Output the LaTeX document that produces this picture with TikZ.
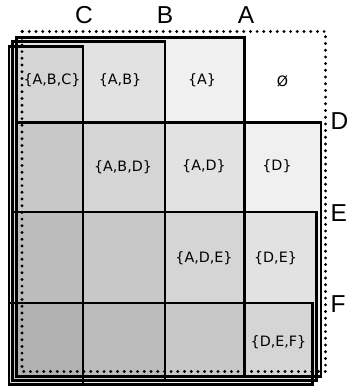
\documentclass[tikz,border=0pt]{standalone}
\usepackage{fontspec}
\setmainfont{Liberation Sans}
\newfontfamily\cellfont{DejaVu Sans}
\begin{document}
\begin{tikzpicture}[x=1pt,y=-1pt,
  setbox/.style={draw=black, line width=2.1pt, fill=black, fill opacity=0.06, draw opacity=1},
  cell/.style={font=\cellfont\fontsize{14.3}{16}\selectfont, inner sep=0pt},
  setlabel/.style={font=\fontsize{24.5}{28}\selectfont, inner sep=0pt, anchor=base},
  setlabelr/.style={font=\fontsize{24.5}{28}\selectfont, inner sep=0pt, anchor=base west},
  universe/.style={draw=black, line width=3.2pt, dash pattern=on 0pt off 6.7pt, line cap=round}]
\useasboundingbox (0,0) rectangle (346,388);
% set rectangles
\draw[setbox] (16.5,37.5) rectangle (244.5,376.5);   % A
\draw[setbox] (12.5,41.5) rectangle (165,380.5);     % B
\draw[setbox] (9,46.5) rectangle (83,384.5);         % C
\draw[setbox] (16.5,122.5) rectangle (321,376.5);    % D
\draw[setbox] (12.5,212) rectangle (316.5,380.5);    % E
\draw[setbox] (9,303) rectangle (312.5,384.5);       % F
% universe
\draw[universe] (22,31.5) rectangle (325.5,371.5);
% set labels
\node[setlabel] (lC) at (84,23.5) {C};
\node[setlabel] (lB) at (165,23.5) {B};
\node[setlabel] (lA) at (246,23.5) {A};
\node[setlabelr] (lD) at (330.5,129.5) {D};
\node[setlabelr] (lE) at (330.5,221) {E};
\node[setlabelr] (lF) at (330.5,312.5) {F};
% cell labels
\node[cell] (abc) at (52,80) {\{A,B,C\}};
\node[cell] (ab) at (120,80) {\{A,B\}};
\node[cell] (a) at (202,80) {\{A\}};
\node[cell] (empty) at (282.5,81) {Ø};
\node[cell] (abd) at (123,167) {\{A,B,D\}};
\node[cell] (ad) at (204,166) {\{A,D\}};
\node[cell] (d) at (277,166) {\{D\}};
\node[cell] (ade) at (204,258) {\{A,D,E\}};
\node[cell] (de) at (275.5,258) {\{D,E\}};
\node[cell] (def) at (278.5,342) {\{D,E,F\}};
\end{tikzpicture}
\end{document}
